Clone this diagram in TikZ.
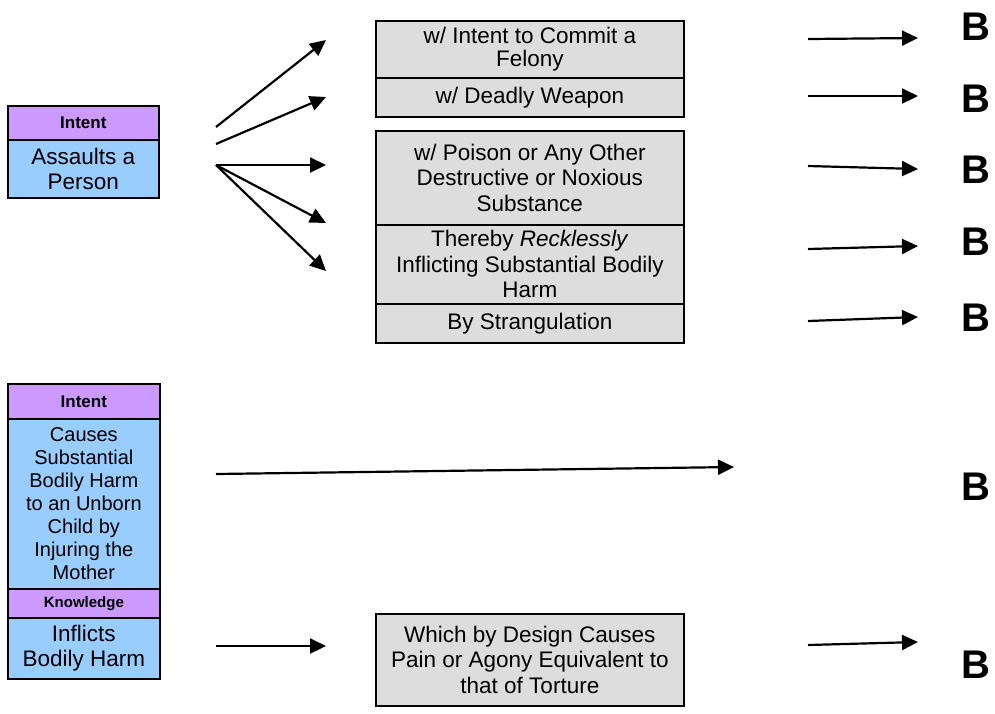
\documentclass[tikz,border=0pt]{standalone}
\usepackage{fontspec}
\setmainfont{Liberation Sans}
\usetikzlibrary{arrows.meta}
\definecolor{elemlabel}{HTML}{CC99FF}
\definecolor{elembody}{HTML}{99CCFF}
\definecolor{modbody}{HTML}{DDDDDD}
\begin{document}
\begin{tikzpicture}[x=1pt,y=-1pt,
  box/.style={draw=black,line width=1.7pt,anchor=north west,inner sep=0pt,
    align=center,font=\fontsize{22.5}{25.5}\selectfont},
  labelbox/.style={box,fill=elemlabel,font=\bfseries\fontsize{17}{19}\selectfont},
  bodybox/.style={box,fill=elembody},
  modbox/.style={box,fill=modbody},
  conn/.style={line width=2.2pt,-{Triangle[length=16pt,width=15pt]}},
  grade/.style={anchor=west,inner sep=0pt,font=\bfseries\fontsize{40}{40}\selectfont}]
\useasboundingbox (0,0) rectangle (995,713);

% Element: assault with intent
\node[labelbox,minimum width=151pt,minimum height=34pt] (lab1) at (7,105) {Intent};
\node[bodybox,minimum width=151pt,minimum height=58pt] (body1) at (7,139) {Assaults a\\Person};

% Element: harm to an unborn child / inflicting bodily harm
\node[labelbox,minimum width=152pt,minimum height=35pt] (lab2) at (7,383) {Intent};
\node[bodybox,minimum width=152pt,minimum height=170pt,font=\fontsize{20}{23}\selectfont] (body2) at (7,418)
  {Causes\\Substantial\\Bodily Harm\\to an Unborn\\Child by\\Injuring the\\Mother};
\node[labelbox,minimum width=152pt,minimum height=29pt,font=\bfseries\fontsize{15}{17}\selectfont] (lab3) at (7,588) {Knowledge};
\node[bodybox,minimum width=152pt,minimum height=61pt] (body3) at (7,617) {Inflicts\\Bodily Harm};

% Circumstances
\node[modbox,minimum width=308pt,minimum height=57pt] (m1) at (375,20) {\raisebox{-4pt}{\shortstack{w/ Intent to Commit a\\[3pt]Felony}}};
\node[modbox,minimum width=308pt,minimum height=39pt] (m2) at (375,77) {w/ Deadly Weapon};
\node[modbox,minimum width=308pt,minimum height=94pt] (m3) at (375,130) {w/ Poison or Any Other\\Destructive or Noxious\\Substance};
\node[modbox,minimum width=308pt,minimum height=79pt] (m4) at (375,224) {Thereby \emph{Recklessly}\\Inflicting Substantial Bodily\\Harm};
\node[modbox,minimum width=308pt,minimum height=39pt] (m5) at (375,303) {By Strangulation};
\node[modbox,minimum width=308pt,minimum height=92pt] (m6) at (375,613) {Which by Design Causes\\Pain or Agony Equivalent to\\that of Torture};

% Grades
\node[grade] (g1) at (961,27) {B};
\node[grade] (g2) at (961,99) {B};
\node[grade] (g3) at (961,170) {B};
\node[grade] (g4) at (961,242) {B};
\node[grade] (g5) at (961,318) {B};
\node[grade] (g6) at (961,487) {B};
\node[grade] (g7) at (961,665) {B};

% Connector end points
\coordinate (s1) at (216,127);  \coordinate (e1) at (326,40);
\coordinate (s2) at (216,144);  \coordinate (e2) at (326,97);
\coordinate (s3) at (216,165);  \coordinate (e3) at (326,165);
\coordinate (e4) at (326,223);  \coordinate (e5) at (326,271);
\coordinate (r1) at (808,39);   \coordinate (t1) at (918,38);
\coordinate (r2) at (808,96);   \coordinate (t2) at (918,96);
\coordinate (r3) at (808,166);  \coordinate (t3) at (918,169);
\coordinate (r4) at (808,249);  \coordinate (t4) at (918,246);
\coordinate (r5) at (808,321);  \coordinate (t5) at (918,317);
\coordinate (s6) at (216,474);  \coordinate (e6) at (734,467);
\coordinate (s7) at (216,646);  \coordinate (e7) at (326,646);
\coordinate (r7) at (808,645);  \coordinate (t7) at (918,642);

% Connectors
\draw[conn] (s1) -- (e1);
\draw[conn] (s2) -- (e2);
\draw[conn] (s3) -- (e3);
\draw[conn] (s3) -- (e4);
\draw[conn] (s3) -- (e5);
\draw[conn] (r1) -- (t1);
\draw[conn] (r2) -- (t2);
\draw[conn] (r3) -- (t3);
\draw[conn] (r4) -- (t4);
\draw[conn] (r5) -- (t5);
\draw[conn] (s6) -- (e6);
\draw[conn] (s7) -- (e7);
\draw[conn] (r7) -- (t7);
\end{tikzpicture}
\end{document}
